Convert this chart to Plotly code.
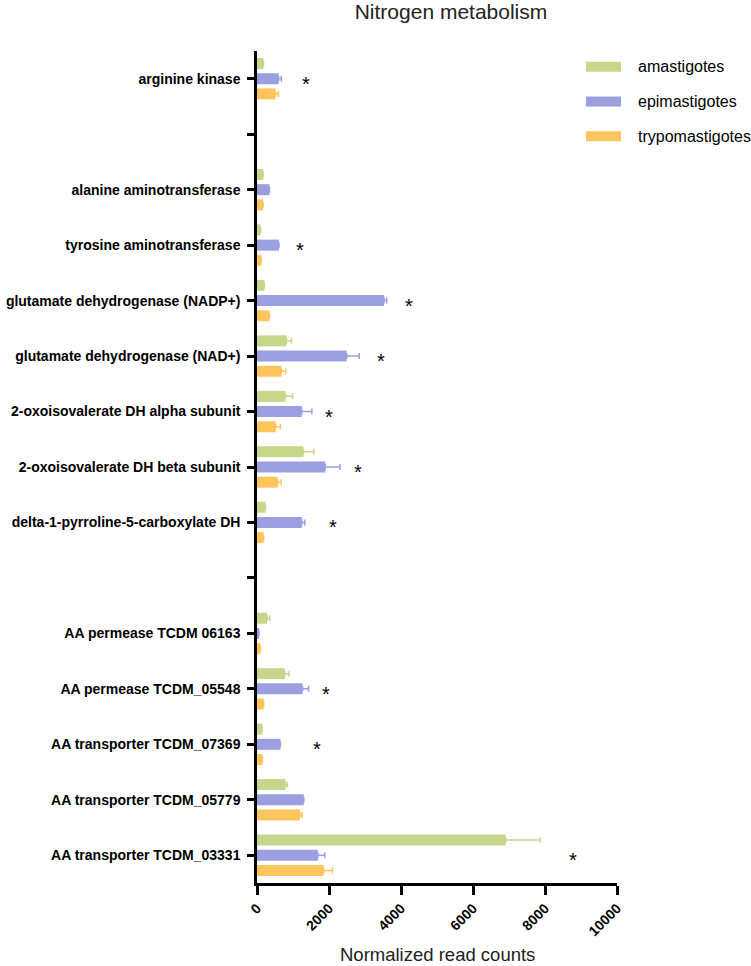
import plotly.graph_objects as go

# ---------------- data ----------------
categories = [
    "arginine kinase",
    " ",
    "alanine aminotransferase",
    "tyrosine aminotransferase",
    "glutamate dehydrogenase (NADP+)",
    "glutamate dehydrogenase (NAD+)",
    "2-oxoisovalerate DH alpha subunit",
    "2-oxoisovalerate DH beta subunit",
    "delta-1-pyrroline-5-carboxylate DH",
    "  ",
    "AA permease TCDM 06163",
    "AA permease TCDM_05548",
    "AA transporter TCDM_07369",
    "AA transporter TCDM_05779",
    "AA transporter TCDM_03331",
]

amastigotes = [180, None, 170, 100, 205, 820, 790, 1290, 235, None, 280, 770, 140, 790, 6910]
amastigotes_err = [0, None, 0, 0, 0, 140, 195, 290, 0, None, 75, 120, 0, 55, 955]

epimastigotes = [600, None, 345, 610, 3530, 2490, 1245, 1895, 1245, None, 55, 1265, 650, 1300, 1690]
epimastigotes_err = [75, None, 0, 0, 75, 350, 280, 410, 85, None, 0, 165, 0, 0, 195]

trypomastigotes = [515, None, 170, 120, 345, 680, 520, 575, 185, None, 95, 185, 150, 1190, 1855]
trypomastigotes_err = [80, None, 0, 0, 0, 120, 130, 95, 0, None, 0, 0, 0, 65, 240]

star_categories = [
    "arginine kinase",
    "tyrosine aminotransferase",
    "glutamate dehydrogenase (NADP+)",
    "glutamate dehydrogenase (NAD+)",
    "2-oxoisovalerate DH alpha subunit",
    "2-oxoisovalerate DH beta subunit",
    "delta-1-pyrroline-5-carboxylate DH",
    "AA permease TCDM_05548",
    "AA transporter TCDM_07369",
    "AA transporter TCDM_03331",
]
star_x = [1355, 1190, 4220, 3440, 1995, 2800, 2100, 1910, 1680, 8790]

x_ticks = [0, 2000, 4000, 6000, 8000, 10000]

series_names = ["amastigotes", "epimastigotes", "trypomastigotes"]
colors = ["#c6d68a", "#9b9fe0", "#fec55c"]

# ---------------- figure ----------------
W, H = 751, 966
ML, MR, MT, MB = 257, 134, 51, 83
PW, PH = W - ML - MR, H - MT - MB

def px_x(px):
    return (px - ML) / PW

def px_y(py):
    return 1 - (py - MT) / PH

FONT = "Liberation Sans, Arial, sans-serif"

fig = go.Figure()
for name, vals, errs, col in zip(
    series_names,
    [amastigotes, epimastigotes, trypomastigotes],
    [amastigotes_err, epimastigotes_err, trypomastigotes_err],
    colors,
):
    fig.add_trace(
        go.Bar(
            name=name,
            y=categories,
            x=vals,
            orientation="h",
            marker=dict(color=col, line=dict(width=0)),
            error_x=dict(
                type="data",
                array=errs,
                arrayminus=[0 if e is not None else None for e in errs],
                symmetric=False,
                color=col,
                thickness=1.5,
                width=3,
            ),
            showlegend=False,
            hoverinfo="skip",
        )
    )

# significance stars
for c, sx in zip(star_categories, star_x):
    fig.add_annotation(
        x=sx, y=c, xref="x", yref="y", text="*", showarrow=False,
        font=dict(family=FONT, size=20, color="black"),
        xanchor="center", yanchor="middle", yshift=-5,
    )

# manual legend
legend_y = [66.7, 101.5, 136.2]
shapes = []
for name, col, ly in zip(series_names, colors, legend_y):
    shapes.append(dict(
        type="rect", xref="paper", yref="paper",
        x0=px_x(586), x1=px_x(621), y0=px_y(ly - 5), y1=px_y(ly + 5),
        fillcolor=col, line=dict(width=0),
    ))
    fig.add_annotation(
        x=px_x(636), y=px_y(ly), xref="paper", yref="paper", text=name,
        showarrow=False, xanchor="left", yanchor="middle",
        font=dict(family=FONT, size=16, color="black"),
    )

# x axis title
fig.add_annotation(
    x=0.5, y=px_y(955), xref="paper", yref="paper",
    text="Normalized read counts", showarrow=False,
    xanchor="center", yanchor="middle",
    font=dict(family=FONT, size=18.5, color="#222222"),
)

fig.update_layout(
    width=W, height=H,
    margin=dict(l=ML, r=MR, t=MT, b=MB, pad=0),
    paper_bgcolor="white", plot_bgcolor="white",
    barmode="group", bargap=0.178, bargroupgap=0.276,
    shapes=shapes,
    title=dict(
        text="Nitrogen metabolism", x=451 / W, xanchor="center",
        y=1 - 12 / H, yanchor="middle", xref="container", yref="container",
        font=dict(family=FONT, size=21, color="#222222"),
    ),
    xaxis=dict(
        range=[0, 10000], tickvals=x_ticks, ticktext=[str(t) for t in x_ticks],
        showgrid=False, zeroline=False, showline=True, linecolor="black", linewidth=2.5,
        ticks="outside", ticklen=9, tickwidth=2.5, tickcolor="black",
        tickangle=-45, automargin=False,
        tickfont=dict(family=FONT, size=14, color="black", weight="bold"),
    ),
    yaxis=dict(
        type="category", categoryorder="array", categoryarray=categories,
        range=[len(categories) - 0.5, -0.5],
        showgrid=False, zeroline=False, showline=True, linecolor="black", linewidth=2.5,
        ticks="outside", ticklen=7, tickwidth=2.5, tickcolor="black",
        ticklabelstandoff=4, automargin=False,
        tickfont=dict(family=FONT, size=14, color="black", weight="bold"),
    ),
)

fig.write_html(
    "out.html",
    config={"displayModeBar": False},
    post_script="document.body.style.margin='0';document.body.style.padding='0';",
)
